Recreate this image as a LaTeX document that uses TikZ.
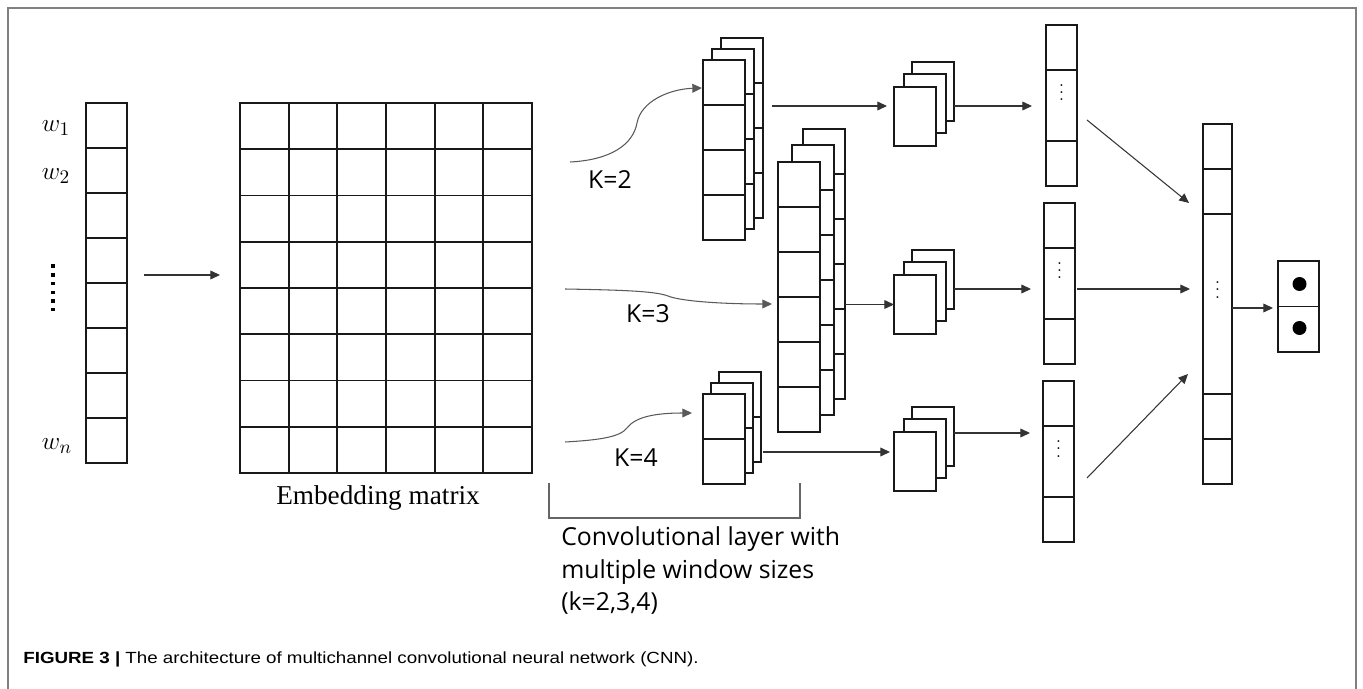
\documentclass[tikz,border=0pt]{standalone}
\usepackage{fontspec}
\usetikzlibrary{arrows.meta}
\newfontfamily\labelfont{Open Sans}
\newfontfamily\embfont{Liberation Serif}
\newfontfamily\capfont[FakeStretch=1.16]{Liberation Sans}
\tikzset{
  box/.style 2 args={draw=black!90, line width=1pt, fill=white, inner sep=0pt,
    outer sep=0pt, anchor=north west, minimum width=#1*0.02cm, minimum height=#2*0.02cm},
  cellline/.style={draw=black!90, line width=1pt},
  arr/.style={draw=black!80, line width=0.6pt, -{Triangle[length=5.5pt,width=5pt]}},
  kcurve/.style={draw=black!65, line width=0.6pt, -{Triangle[length=5.5pt,width=5pt]}},
  klabel/.style={inner sep=0pt, font=\labelfont\fontsize{14.1}{18.7}\selectfont},
  wlabel/.style={font=\fontsize{15}{16}\selectfont},
  dotlabel/.style={inner sep=0pt, anchor=base},
  outerframe/.style={draw=black!50, line width=1.2pt},
  bracketline/.style={draw=black!60, line width=0.6pt},
}
\newcommand\cellcolumn[6]{%
  \node[box={#4}{#5*#6}] (#1) at (#2,#3) {};
  \pgfmathtruncatemacro\lastcell{#6-1}
  \foreach \k in {1,...,\lastcell}
    \draw[cellline] (#2,{#3+\k*#5}) -- ++(#4,0);
}
\begin{document}
\begin{tikzpicture}[x=0.02cm,y=-0.02cm]
  \useasboundingbox (0,0) rectangle (1363,689);
  \draw[outerframe] (8,689) -- (8,8) -- (1356,8) -- (1356,689);

  \cellcolumn{inp}{86}{103}{41}{45}{8}
  \node[wlabel] (w1) at (56,128) {$w_1$};
  \node[wlabel] (w2) at (56,176) {$w_2$};
  \node[wlabel] (wn) at (57,446) {$w_n$};
  \foreach \k in {0,...,5}
    \fill (51.3,{264.5+\k*8.7}) rectangle ++(3.5,3.5);

  \node[box={292}{370}] (emb) at (240,103) {};
  \foreach \i in {1,...,5}
    \draw[cellline] ({240+\i*292/6},103) -- ++(0,370);
  \foreach \j in {1,...,7}
    \draw[cellline] (240,{103+\j*370/8}) -- ++(292,0);
  \node[font=\embfont\fontsize{15.5}{18}\selectfont] (embl) at (378,498) {Embedding matrix};

  \cellcolumn{k2c}{721}{38}{42}{45}{4}
  \cellcolumn{k2b}{712}{49}{42}{45}{4}
  \cellcolumn{k2a}{703}{60}{42}{45}{4}
  \cellcolumn{k3c}{803}{129}{42}{45}{6}
  \cellcolumn{k3b}{792}{145}{42}{45}{6}
  \cellcolumn{k3a}{778}{162}{42}{45}{6}
  \cellcolumn{k4c}{719}{372}{42}{45}{2}
  \cellcolumn{k4b}{711}{383}{42}{45}{2}
  \cellcolumn{k4a}{703}{394}{42}{45}{2}
  \node[klabel] (k2l) at (610,180) {K=2};
  \node[klabel] (k3l) at (648,314) {K=3};
  \node[klabel] (k4l) at (636,458) {K=4};

  \draw[bracketline] (549,483) -- (549,518) -- (800,518) -- (800,483);
  \node[klabel, align=left, anchor=north west] (convl) at (561,526)
    {Convolutional layer with\\multiple window sizes\\(k=2,3,4)};

  \foreach \n/\y in {1/62, 2/250, 3/407} {
    \node[box={42}{59}] (pc\n) at (912,\y) {};
    \node[box={42}{59}] (pb\n) at (904,\y+12) {};
    \node[box={42}{59}] (pa\n) at (894,\y+25) {};
  }

  \foreach \n/\x/\y in {1/1046/25, 2/1044/203, 3/1043/381} {
    \node[box={31}{161}] (v\n) at (\x,\y) {};
    \draw[cellline] (\x,\y+45) -- ++(31,0) (\x,\y+116) -- ++(31,0);
    \node[dotlabel] (vd\n) at (\x+15.5,\y+76) {$\vdots$};
  }

  \node[box={29}{360}] (cat) at (1203,124) {};
  \foreach \d in {45,90,270,315}
    \draw[cellline] (1203,124+\d) -- ++(29,0);
  \node[dotlabel] (catd) at (1217.5,298) {$\vdots$};

  \node[box={41}{91}] (out) at (1278,261) {};
  \draw[cellline] (1278,306.5) -- ++(41,0);
  \node[circle, fill=black, inner sep=0pt, minimum size=14*0.02cm] (o1) at (1299.5,284) {};
  \node[circle, fill=black, inner sep=0pt, minimum size=14*0.02cm] (o2) at (1299.5,328) {};

  \coordinate (i1) at (144,275);
  \coordinate (i2) at (220,275);
  \coordinate (k2s) at (570,162);
  \coordinate (k2e) at (702,88);
  \coordinate (k3s) at (565,289);
  \coordinate (k3e) at (772,304);
  \coordinate (k4s) at (565,442);
  \coordinate (k4e) at (692,413);
  \coordinate (t1s) at (772,106);
  \coordinate (t1e) at (887,106);
  \coordinate (t3s) at (763,452);
  \coordinate (t3e) at (890,452);
  \coordinate (u1s) at (954,106);
  \coordinate (u1e) at (1032,106);
  \coordinate (u2s) at (954,289);
  \coordinate (u2e) at (1031,289);
  \coordinate (u3s) at (954,433);
  \coordinate (u3e) at (1030,433);
  \coordinate (c1s) at (1087,120);
  \coordinate (c1e) at (1189,203);
  \coordinate (c2s) at (1077,289);
  \coordinate (c2e) at (1190,289);
  \coordinate (c3s) at (1087,478);
  \coordinate (c3e) at (1188,374);
  \coordinate (os) at (1232,308);
  \coordinate (oe) at (1273,308);

  \draw[arr] (i1) -- (i2);
  \draw[kcurve] (k2s) .. controls (610,160) and (633,145) .. (637,123)
    .. controls (641,101) and (670,89) .. (k2e);
  \draw[kcurve] (k3s) .. controls (620,290) and (655,291) .. (668,296)
    .. controls (680,301) and (720,304) .. (k3e);
  \draw[kcurve] (k4s) .. controls (600,440) and (620,437) .. (627,428)
    .. controls (635,417) and (655,413) .. (k4e);
  \draw[arr] (t1s) -- (t1e);
  \draw[arr] (k3c.east |- pa2.west) -- (pa2.west);
  \draw[arr] (t3s) -- (t3e);
  \draw[arr] (u1s) -- (u1e);
  \draw[arr] (u2s) -- (u2e);
  \draw[arr] (u3s) -- (u3e);
  \draw[arr] (c1s) -- (c1e);
  \draw[arr] (c2s) -- (c2e);
  \draw[arr] (c3s) -- (c3e);
  \draw[arr] (os) -- (oe);

  \node[anchor=base west, inner sep=0pt, font=\capfont\fontsize{9.2}{11}\selectfont] (cap) at (23,663)
    {\textbf{FIGURE 3 |} The architecture of multichannel convolutional neural network (CNN).};
\end{tikzpicture}
\end{document}
